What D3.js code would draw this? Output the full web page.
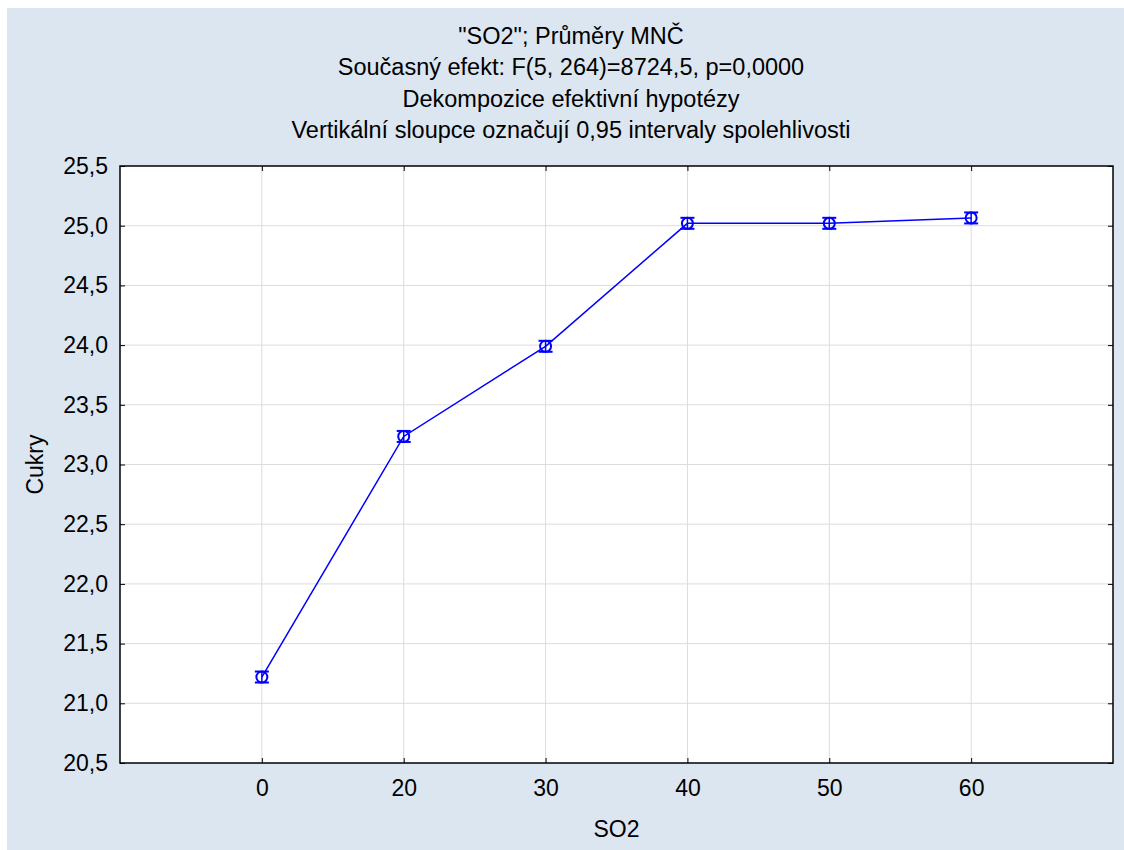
<!DOCTYPE html>
<html>
<head>
<meta charset="utf-8">
<script src="https://cdn.jsdelivr.net/npm/d3@7"></script>
<style>
  body { margin: 0; background: #fff; }
  text { font-family: "Liberation Sans", Arial, sans-serif; fill: #000; }
</style>
</head>
<body>
<svg id="chart" width="1124" height="850"></svg>
<script>
const categories = ['0', '20', '30', '40', '50', '60']
const means = [21.22, 23.235, 23.99, 25.02, 25.02, 25.065]
const ciHalf = [0.046, 0.046, 0.046, 0.046, 0.046, 0.046]
const yTicks = [20.5, 21.0, 21.5, 22.0, 22.5, 23.0, 23.5, 24.0, 24.5, 25.0, 25.5]
const titleLines = [
  '"SO2"; Průměry MNČ',
  'Současný efekt: F(5, 264)=8724,5, p=0,0000',
  'Dekompozice efektivní hypotézy',
  'Vertikální sloupce označují 0,95 intervaly spolehlivosti'
]

const bg = '#dce6f1'
const blue = '#0000ff'
const gridGrey = '#dcdcdc'

const svg = d3.select('#chart')
const plotL = 120, plotR = 1113, plotT = 166, plotB = 763

// background panel
svg.append('rect')
  .attr('x', 7).attr('y', 8)
  .attr('width', 1124 - 7).attr('height', 850 - 8)
  .attr('fill', bg)

svg.append('rect')
  .attr('x', plotL).attr('y', plotT)
  .attr('width', plotR - plotL).attr('height', plotB - plotT)
  .attr('fill', 'white')

const x = d3.scaleLinear().domain([-1, categories.length]).range([plotL, plotR])
const y = d3.scaleLinear().domain([20.5, 25.5]).range([plotB, plotT])
const fmt = d => d.toFixed(1).replace('.', ',')

// grid
svg.append('g').selectAll('line')
  .data(yTicks.slice(1, -1))
  .join('line')
  .attr('x1', plotL).attr('x2', plotR)
  .attr('y1', d => y(d)).attr('y2', d => y(d))
  .attr('stroke', gridGrey)

svg.append('g').selectAll('line')
  .data(categories)
  .join('line')
  .attr('x1', (d, i) => x(i)).attr('x2', (d, i) => x(i))
  .attr('y1', plotT).attr('y2', plotB)
  .attr('stroke', gridGrey)

// axes, ticks inside on all four sides
const xIdx = d3.range(categories.length)
const axB = d3.axisBottom(x).tickValues(xIdx).tickSize(-5).tickPadding(17).tickFormat(i => categories[i])
const axT = d3.axisTop(x).tickValues(xIdx).tickSize(-5).tickFormat('')
const axL = d3.axisLeft(y).tickValues(yTicks).tickSize(-5).tickPadding(12).tickFormat(fmt)
const axR = d3.axisRight(y).tickValues(yTicks).tickSize(-5).tickFormat('')

function styleAxis (g) {
  g.select('.domain').remove()
  g.selectAll('line').attr('stroke', '#000')
  g.selectAll('text').attr('font-size', 23).attr('font-family', '"Liberation Sans", Arial, sans-serif')
}
svg.append('g').attr('transform', `translate(0,${plotB})`).call(axB).call(styleAxis)
svg.append('g').attr('transform', `translate(0,${plotT})`).call(axT).call(styleAxis)
svg.append('g').attr('transform', `translate(${plotL},0)`).call(axL).call(styleAxis)
svg.append('g').attr('transform', `translate(${plotR},0)`).call(axR).call(styleAxis)

// frame
svg.append('rect')
  .attr('x', plotL).attr('y', plotT)
  .attr('width', plotR - plotL).attr('height', plotB - plotT)
  .attr('fill', 'none')
  .attr('stroke', '#000')
  .attr('stroke-width', 1.5)

// line
const line = d3.line().x((d, i) => x(i)).y(d => y(d))
svg.append('path')
  .datum(means)
  .attr('d', line)
  .attr('fill', 'none')
  .attr('stroke', blue)
  .attr('stroke-width', 1.5)

// error bars + markers
const pts = svg.append('g').selectAll('g')
  .data(means)
  .join('g')
  .attr('transform', (d, i) => `translate(${x(i)},0)`)

pts.append('line')
  .attr('x1', 0).attr('x2', 0)
  .attr('y1', (d, i) => y(d - ciHalf[i])).attr('y2', (d, i) => y(d + ciHalf[i]))
  .attr('stroke', blue).attr('stroke-width', 1.5)
pts.append('line')
  .attr('x1', -7).attr('x2', 7)
  .attr('y1', (d, i) => y(d - ciHalf[i])).attr('y2', (d, i) => y(d - ciHalf[i]))
  .attr('stroke', blue).attr('stroke-width', 2)
pts.append('line')
  .attr('x1', -7).attr('x2', 7)
  .attr('y1', (d, i) => y(d + ciHalf[i])).attr('y2', (d, i) => y(d + ciHalf[i]))
  .attr('stroke', blue).attr('stroke-width', 2)
pts.append('circle')
  .attr('cy', d => y(d))
  .attr('r', 5.5)
  .attr('fill', 'none')
  .attr('stroke', blue)
  .attr('stroke-width', 2)

// titles
svg.append('g').selectAll('text')
  .data(titleLines)
  .join('text')
  .attr('x', 571)
  .attr('y', (d, i) => 44 + i * 31.3)
  .attr('text-anchor', 'middle')
  .attr('font-size', 23.5)
  .text(d => d)

// axis titles
svg.append('text')
  .attr('x', x(2.5)).attr('y', 837)
  .attr('text-anchor', 'middle')
  .attr('font-size', 23)
  .text('SO2')

svg.append('text')
  .attr('transform', `translate(43,${(plotT + plotB) / 2}) rotate(-90)`)
  .attr('text-anchor', 'middle')
  .attr('font-size', 23)
  .text('Cukry')
</script>
</body>
</html>
